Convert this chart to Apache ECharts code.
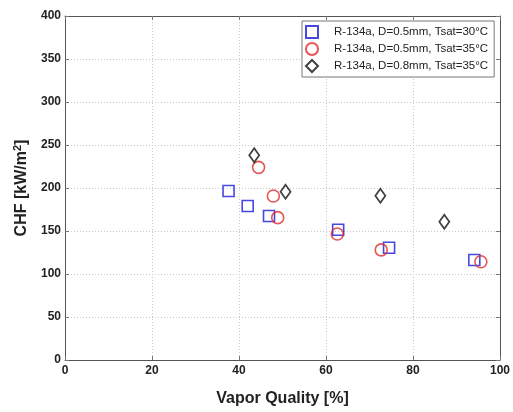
<!DOCTYPE html>
<html>
<head>
<meta charset="utf-8">
<script src="https://cdn.jsdelivr.net/npm/echarts@6/dist/echarts.min.js"></script>
<style>
html,body{margin:0;padding:0;background:#fff;}
#chart{width:513px;height:412px;}
</style>
</head>
<body>
<div id="chart"></div>
<script>
// CHF versus vapor quality for three R-134a test conditions
const seriesNames = [
  'R-134a, D=0.5mm, Tsat=30°C',
  'R-134a, D=0.5mm, Tsat=35°C',
  'R-134a, D=0.8mm, Tsat=35°C'
];
const quality30 = [37.6, 42.0, 46.9, 62.8, 74.5, 94.1];
const chf30     = [196.5, 179, 167.5, 151.5, 130.6, 116.3];
const quality35 = [44.5, 47.9, 48.9, 62.6, 72.7, 95.6];
const chf35     = [224, 190.7, 165.5, 146.5, 128, 114.3];
const quality08 = [43.5, 50.7, 72.5, 87.2];
const chf08     = [238, 195.7, 191, 160.8];
const xTicks = [0, 20, 40, 60, 80, 100];
const yTicks = [0, 50, 100, 150, 200, 250, 300, 350, 400];

const pairs = (xs, ys) => xs.map((x, i) => [x, ys[i]]);
const font = 'Liberation Sans, Arial, Helvetica, sans-serif';

const gridLine = { show: true, lineStyle: { color: '#c8c8c8', type: [1, 2], width: 1 } };
const axisLine = { show: true, onZero: false, lineStyle: { color: '#555', width: 1 } };
const tick = { show: true, inside: true, length: 4, lineStyle: { color: '#777' } };

const chart = echarts.init(document.getElementById('chart'), null, { renderer: 'canvas' });
chart.setOption({
  animation: false,
  backgroundColor: '#fff',
  textStyle: { fontFamily: font },
  grid: { left: 65, right: 11, top: 16, bottom: 52, containLabel: false },
  legend: {
    orient: 'vertical',
    left: 302,
    top: 21,
    itemWidth: 12,
    itemHeight: 12,
    itemGap: 3,
    symbolKeepAspect: true,
    padding: [4, 6, 4, 3],
    backgroundColor: '#fff',
    borderColor: '#777',
    borderWidth: 1,
    formatter: name => '{t|' + name + '}',
    textStyle: {
      fontFamily: font,
      rich: { t: { fontSize: 11.5, lineHeight: 13, color: '#222', padding: [0, 0, 0, 11] } }
    },
    data: seriesNames
  },
  xAxis: [{
    type: 'value', min: xTicks[0], max: xTicks[xTicks.length - 1], interval: 20,
    name: 'Vapor Quality [%]', nameLocation: 'middle', nameGap: 31,
    nameTextStyle: { fontSize: 16, fontWeight: 'bold', color: '#222' },
    axisLine: axisLine, axisTick: tick, splitLine: gridLine,
    axisLabel: { fontSize: 12, fontWeight: 'bold', color: '#222', margin: 5 }
  }, {
    type: 'value', min: xTicks[0], max: xTicks[xTicks.length - 1], interval: 20,
    position: 'top', axisLine: axisLine, axisTick: tick,
    axisLabel: { show: false }, splitLine: { show: false }
  }],
  yAxis: [{
    type: 'value', min: yTicks[0], max: yTicks[yTicks.length - 1], interval: 50,
    name: 'CHF [kW/m{s|2}]', nameLocation: 'middle', nameGap: 34,
    nameTextStyle: {
      fontSize: 16, fontWeight: 'bold', color: '#222',
      rich: { s: { fontSize: 11, fontWeight: 'bold', color: '#222', verticalAlign: 'top', padding: [0, 0, 8, 0] } }
    },
    axisLine: axisLine, axisTick: tick, splitLine: gridLine,
    axisLabel: { fontSize: 12, fontWeight: 'bold', color: '#222', margin: 4 }
  }, {
    type: 'value', min: yTicks[0], max: yTicks[yTicks.length - 1], interval: 50,
    position: 'right', axisLine: axisLine, axisTick: tick,
    axisLabel: { show: false }, splitLine: { show: false }
  }],
  series: [{
    name: seriesNames[0], type: 'scatter', symbol: 'rect', symbolSize: 11,
    itemStyle: { color: 'rgba(255,255,255,0)', borderColor: '#1a1ad8', borderWidth: 1.6 },
    data: pairs(quality30, chf30)
  }, {
    name: seriesNames[1], type: 'scatter', symbol: 'circle', symbolSize: 12,
    itemStyle: { color: 'rgba(255,255,255,0)', borderColor: '#e02a2a', borderWidth: 1.6 },
    data: pairs(quality35, chf35)
  }, {
    name: seriesNames[2], type: 'scatter', symbol: 'diamond', symbolSize: [10, 14],
    itemStyle: { color: 'rgba(255,255,255,0)', borderColor: '#111', borderWidth: 1.8 },
    data: pairs(quality08, chf08)
  }]
});
</script>
</body>
</html>
